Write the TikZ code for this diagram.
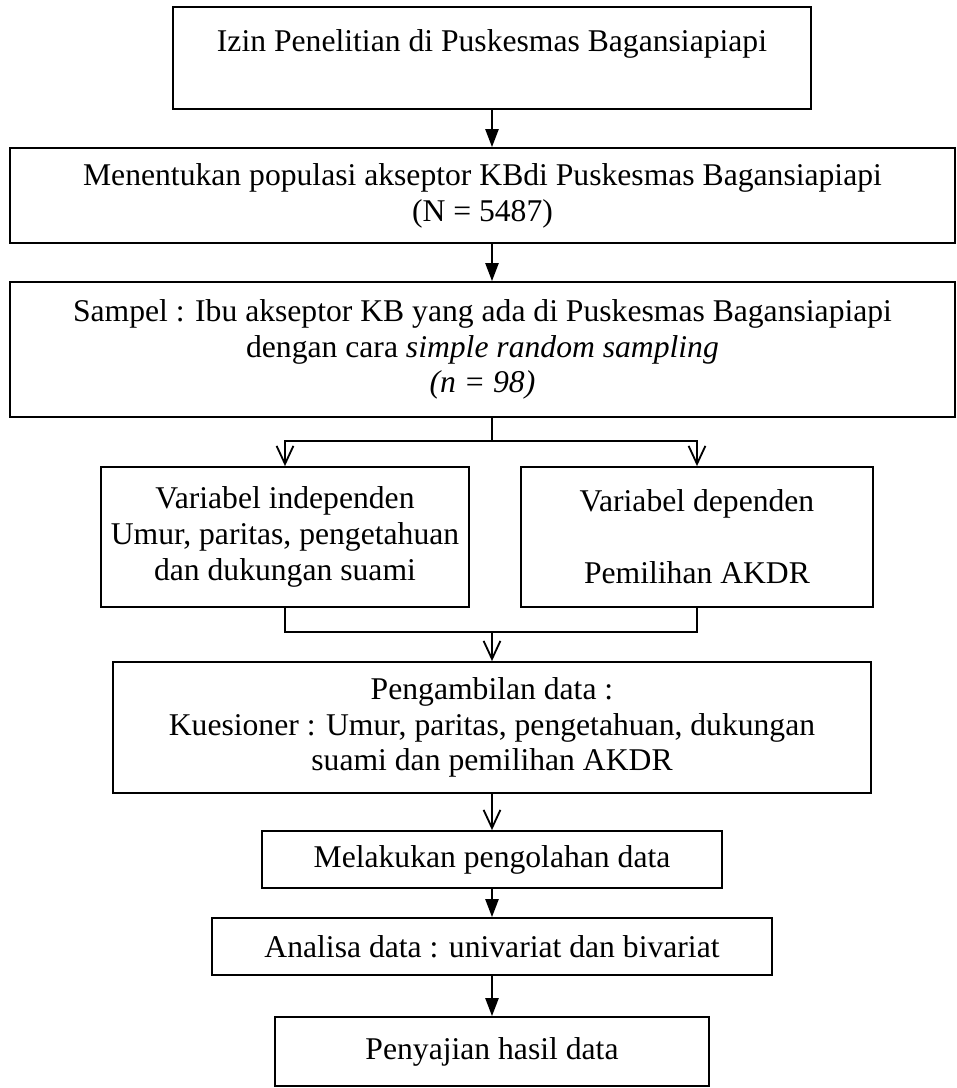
\documentclass[tikz,border=0pt]{standalone}
\usepackage{fontspec}
\setmainfont{Liberation Serif}
\usetikzlibrary{arrows.meta}

\begin{document}
\begin{tikzpicture}[x=0.025cm, y=-0.025cm,
        box/.style={draw, line width=1.3pt, align=center, inner sep=0pt,
            font=\fontsize{22.5}{25.5}\selectfont},
        filltip/.style={line width=1.3pt, -{Triangle[length=0.45cm, width=0.33cm]}},
        opentip/.style={line width=1.3pt, -{Straight Barb[length=0.45cm, width=0.42cm, line width=1.3pt]}},
        plain/.style={line width=1.3pt}]
        \useasboundingbox (0,0) rectangle (957,1088);

        % Boxes of the flow
        \node[box, minimum width=15.95cm, minimum height=2.55cm] (izin) at (492,58)
            {Izin Penelitian di Puskesmas Bagansiapiapi\\ \mbox{}};
        \node[box, minimum width=23.6cm, minimum height=2.375cm] (populasi) at (482.5,195.5)
            {Menentukan populasi akseptor KBdi Puskesmas Bagansiapiapi\\ (N = 5487)};
        \node[box, minimum width=23.6cm, minimum height=3.375cm] (sampel) at (482.5,349.5)
            {Sampel : Ibu akseptor KB yang ada di Puskesmas Bagansiapiapi\\
             dengan cara \textit{simple random sampling}\\ \textit{(n = 98)}};
        \node[box, minimum width=9.2cm, minimum height=3.5cm] (indep) at (285,537)
            {Variabel independen\\ Umur, paritas, pengetahuan\\ dan dukungan suami};
        \node[box, minimum width=8.8cm, minimum height=3.5cm] (dep) at (697,537)
            {Variabel dependen\\ \mbox{}\\ Pemilihan AKDR};
        \node[box, minimum width=18.95cm, minimum height=3.275cm] (ambil) at (492,727.5)
            {Pengambilan data :\\ Kuesioner : Umur, paritas, pengetahuan, dukungan\\ suami dan pemilihan AKDR};
        \node[box, minimum width=11.5cm, minimum height=1.425cm] (olah) at (492,859.5)
            {Melakukan pengolahan data};
        \node[box, minimum width=14cm, minimum height=1.425cm] (analisa) at (492,946.5)
            {Analisa data : univariat dan bivariat};
        \node[box, minimum width=10.85cm, minimum height=1.725cm] (sajian) at (492,1051.5)
            {Penyajian hasil data};

        % Branch and join points
        \coordinate (split) at (492,441);
        \coordinate (join) at (492,632);

        % Draw the connectors
        \draw[filltip] (izin) -- (populasi.north -| izin);
        \draw[filltip] (populasi.south -| izin) -- (sampel.north -| izin);
        \draw[plain] (sampel.south -| split) -- (split);
        \draw[opentip] (split) -| (indep);
        \draw[opentip] (split) -| (dep);
        \draw[plain] (indep) |- (join);
        \draw[plain] (dep) |- (join);
        \draw[opentip] (join) -- (ambil);
        \draw[opentip] (ambil) -- (olah);
        \draw[filltip] (olah) -- (analisa);
        \draw[filltip] (analisa) -- (sajian);
    \end{tikzpicture}
\end{document}
